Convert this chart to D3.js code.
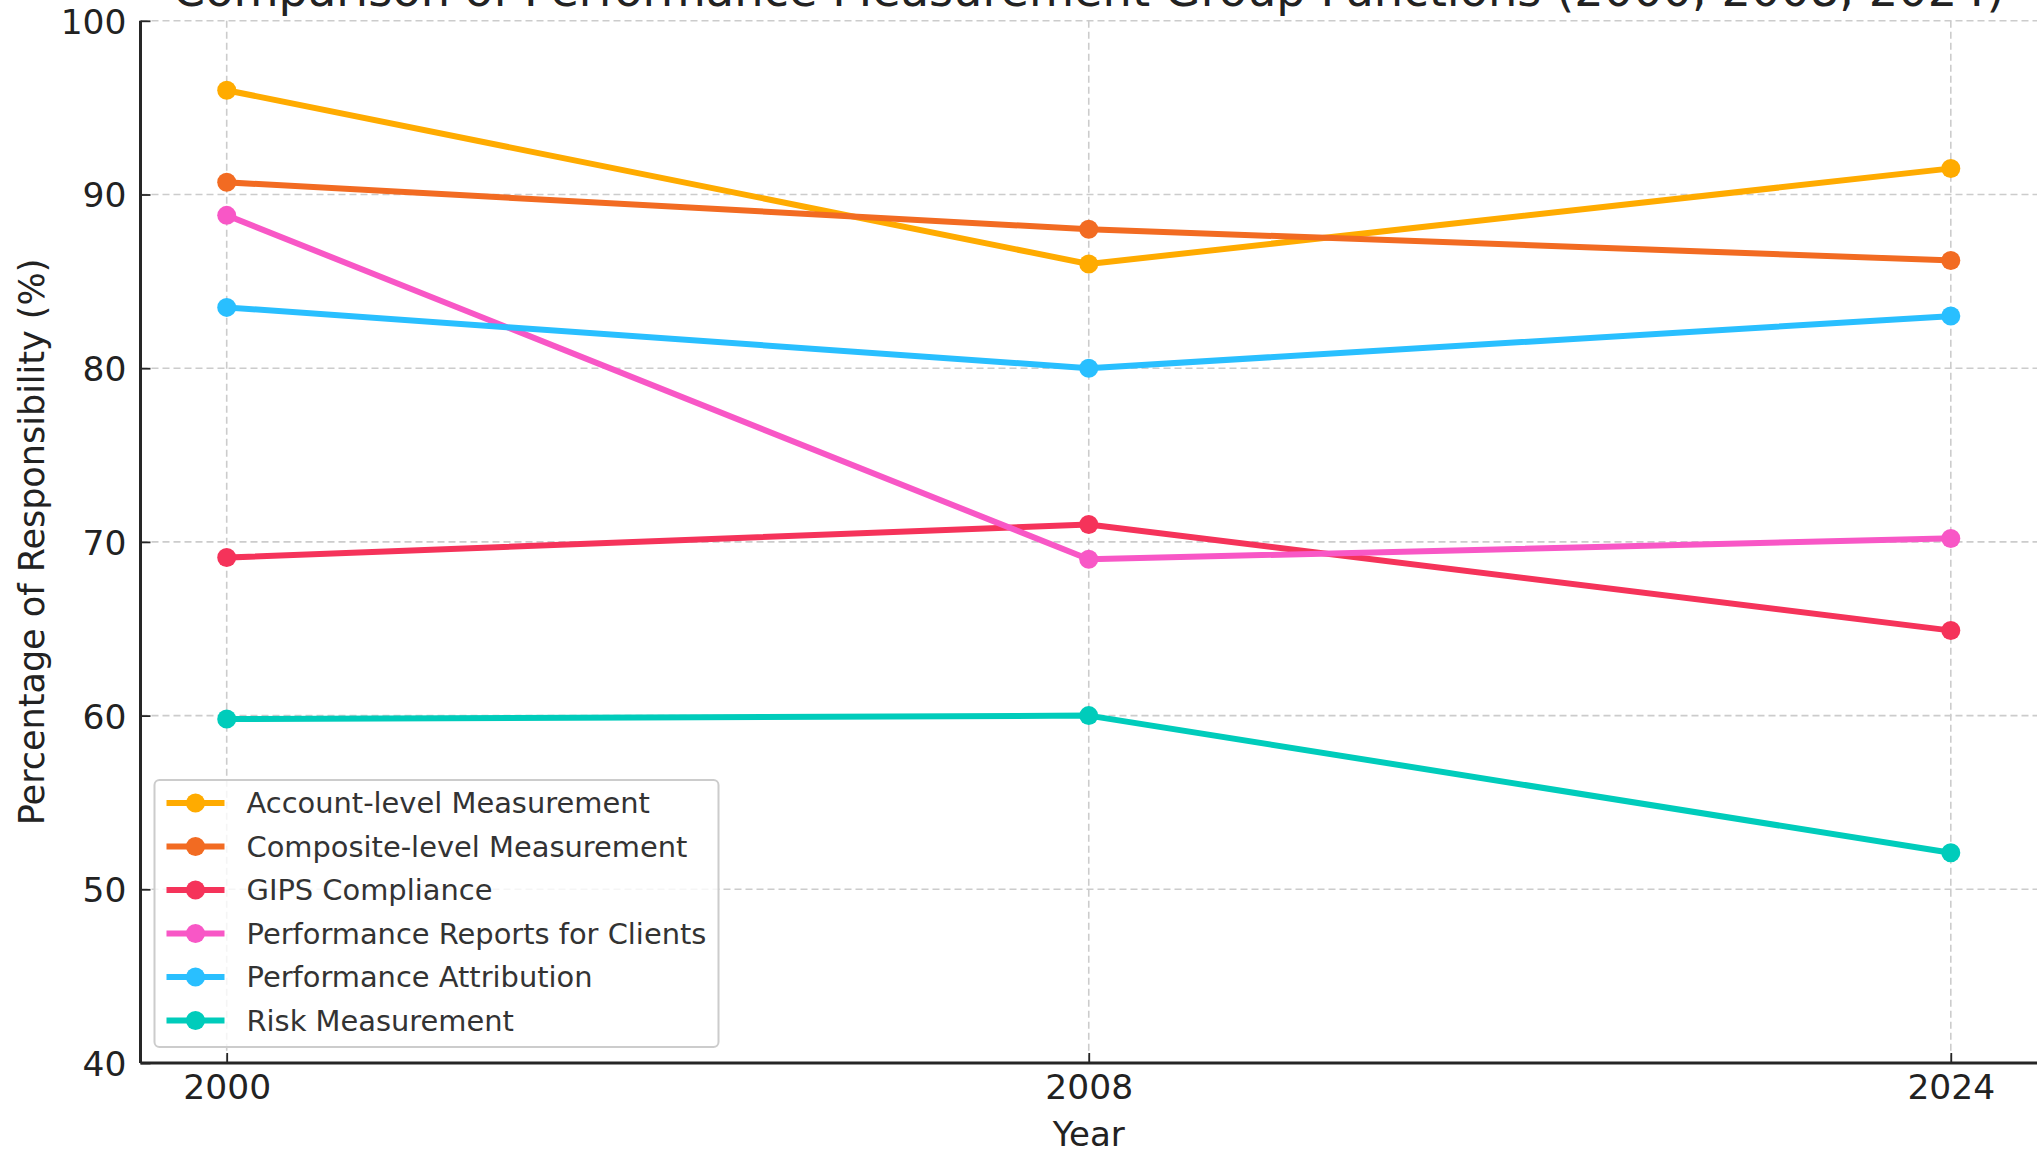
<!DOCTYPE html>
<html>
<head>
<meta charset="utf-8">
<script src="https://cdn.jsdelivr.net/npm/d3@7"></script>
<style>
  html, body { margin: 0; padding: 0; background: #ffffff; overflow: hidden; }
  svg { display: block; font-family: "DejaVu Sans", sans-serif; }
</style>
</head>
<body>
<svg id="chart" width="2038" height="1152"></svg>
<script>
// Survey years (plotted as evenly spaced categories)
const years = ["2000", "2008", "2024"];

// Function names, in legend order
const seriesNames = [
  "Account-level Measurement",
  "Composite-level Measurement",
  "GIPS Compliance",
  "Performance Reports for Clients",
  "Performance Attribution",
  "Risk Measurement"
];

// Percentage of responsibility per year, one array per function
const accountLevel     = [96.0, 86.0, 91.5];
const compositeLevel   = [90.7, 88.0, 86.2];
const gipsCompliance   = [69.1, 71.0, 64.9];
const clientReports    = [88.8, 69.0, 70.2];
const perfAttribution  = [83.5, 80.0, 83.0];
const riskMeasurement  = [59.8, 60.0, 52.1];

const seriesValues = [accountLevel, compositeLevel, gipsCompliance, clientReports, perfAttribution, riskMeasurement];
const seriesColors = ["#ffab00", "#f26b22", "#f5335a", "#f857c6", "#29bfff", "#00ccbb"];

const yTicks = [40, 50, 60, 70, 80, 90, 100];

const svg = d3.select("#chart");
const plot = { left: 140.5, right: 2037, top: 20.8, bottom: 1063 };

// Categorical x positions, with a margin of 10% of one step on either side
const step = (plot.right - plot.left) / (years.length - 1 + 0.2);
const x = d3.scalePoint().domain(years)
  .range([plot.left + 0.1 * step, plot.right - 0.1 * step]).padding(0);

const y = d3.scaleLinear().domain([40, 100]).range([plot.bottom, plot.top]);

// Grid lines
const grid = svg.append("g").attr("class", "grid");
grid.selectAll("line.h").data(yTicks).join("line")
  .attr("class", "h")
  .attr("x1", plot.left).attr("x2", plot.right)
  .attr("y1", d => y(d)).attr("y2", d => y(d))
  .attr("stroke", "#cccccc").attr("stroke-width", 1.6).attr("stroke-dasharray", "7,4");
grid.selectAll("line.v").data(years).join("line")
  .attr("class", "v")
  .attr("x1", d => x(d)).attr("x2", d => x(d))
  .attr("y1", plot.top).attr("y2", plot.bottom)
  .attr("stroke", "#cccccc").attr("stroke-width", 1.6).attr("stroke-dasharray", "7,4");

// Series lines and markers
const line = d3.line().x((d, i) => x(years[i])).y(d => y(d));
const seriesG = svg.append("g").attr("class", "series");
seriesValues.forEach((vals, k) => {
  seriesG.append("path")
    .attr("d", line(vals))
    .attr("fill", "none")
    .attr("stroke", seriesColors[k])
    .attr("stroke-width", 6)
    .attr("stroke-linejoin", "round")
    .attr("stroke-linecap", "square");
  seriesG.selectAll(null).data(vals).join("circle")
    .attr("cx", (d, i) => x(years[i]))
    .attr("cy", d => y(d))
    .attr("r", 9.5)
    .attr("fill", seriesColors[k]);
});

// Axes (ticks pointing inward)
const yAxis = d3.axisLeft(y).tickValues(yTicks).tickSize(-10).tickPadding(14).tickFormat(d3.format("d"));
const yG = svg.append("g").attr("transform", `translate(${plot.left},0)`).call(yAxis);
const xAxis = d3.axisBottom(x).tickSize(-10).tickPadding(12);
const xG = svg.append("g").attr("transform", `translate(0,${plot.bottom})`).call(xAxis);

[yG, xG].forEach(g => {
  g.select(".domain").attr("stroke", "#262626").attr("stroke-width", 3);
  g.selectAll(".tick line").attr("stroke", "#262626").attr("stroke-width", 1.8);
  g.selectAll(".tick text").attr("fill", "#222222").attr("font-size", 34.5)
    .attr("font-family", "DejaVu Sans, sans-serif");
});
yG.select(".domain").attr("d", `M0,${plot.top}V${plot.bottom}`);
xG.select(".domain").attr("d", `M${plot.left},0H${plot.right}`);
yG.selectAll(".tick text").attr("dy", "0.36em");

// Axis titles
svg.append("text")
  .attr("x", (plot.left + plot.right) / 2).attr("y", 1146)
  .attr("text-anchor", "middle").attr("font-size", 34).attr("fill", "#222222")
  .text("Year");
svg.append("text")
  .attr("transform", `translate(44,${(plot.top + plot.bottom) / 2}) rotate(-90)`)
  .attr("text-anchor", "middle").attr("font-size", 35).attr("fill", "#222222")
  .text("Percentage of Responsibility (%)");

// Chart title (sits above the plot area)
svg.append("text")
  .attr("x", (plot.left + plot.right) / 2).attr("y", 6)
  .attr("text-anchor", "middle").attr("font-size", 46.3).attr("fill", "#222222")
  .text("Comparison of Performance Measurement Group Functions (2000, 2008, 2024)");

// Legend
const legend = { x: 154.5, y: 780, w: 564, h: 267, rowH: 43.5 };
const lg = svg.append("g").attr("class", "legend");
lg.append("rect")
  .attr("x", legend.x).attr("y", legend.y)
  .attr("width", legend.w).attr("height", legend.h)
  .attr("rx", 5).attr("ry", 5)
  .attr("fill", "#ffffff").attr("fill-opacity", 0.8)
  .attr("stroke", "#cccccc").attr("stroke-width", 2);
seriesNames.forEach((name, k) => {
  const cy = legend.y + 23 + k * legend.rowH;
  lg.append("line")
    .attr("x1", legend.x + 12).attr("x2", legend.x + 70)
    .attr("y1", cy).attr("y2", cy)
    .attr("stroke", seriesColors[k]).attr("stroke-width", 6);
  lg.append("circle")
    .attr("cx", legend.x + 41).attr("cy", cy).attr("r", 9.5)
    .attr("fill", seriesColors[k]);
  lg.append("text")
    .attr("x", legend.x + 92).attr("y", cy).attr("dy", "0.36em")
    .attr("font-size", 28.9).attr("fill", "#333333")
    .text(name);
});
</script>
</body>
</html>
